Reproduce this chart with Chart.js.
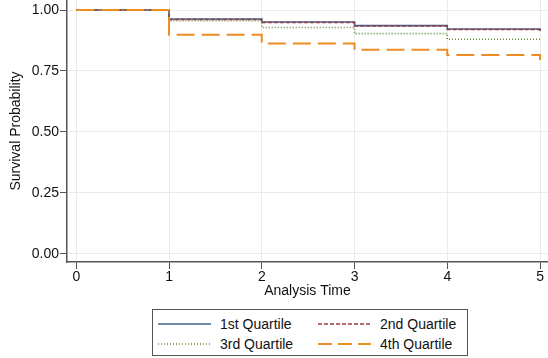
<!DOCTYPE html>
<html>
<head>
<meta charset="utf-8">
<script src="https://cdn.jsdelivr.net/npm/chart.js@4.4.1/dist/chart.umd.min.js"></script>
<style>
  body { margin: 0; background: #fff; font-family: "Liberation Sans", Arial, sans-serif; }
  #wrap { position: relative; width: 548px; height: 358px; }
  #legend {
    position: absolute; left: 152px; top: 309px; width: 314px; height: 45px;
    border: 1px solid #555; box-sizing: content-box;
    font-size: 14px; color: #111;
  }
  .item { position: absolute; display: flex; align-items: center; height: 16px; }
  .item svg { margin-right: 9px; }
</style>
</head>
<body>
<div id="wrap">
  <canvas id="km" width="548" height="300"></canvas>
  <div id="legend"></div>
</div>
<script>
// Kaplan-Meier estimates by quartile, read at each year
const times = [0, 1, 2, 3, 4, 5];
const q1 = [1, 0.963, 0.951, 0.936, 0.922, 0.914];
const q2 = [1, 0.961, 0.949, 0.934, 0.920, 0.912];
const q3 = [1, 0.956, 0.928, 0.903, 0.880, 0.877];
const q4 = [1, 0.899, 0.863, 0.837, 0.816, 0.795];
const seriesNames = ['1st Quartile', '2nd Quartile', '3rd Quartile', '4th Quartile'];
const xTicks = [0, 1, 2, 3, 4, 5];
const yTicks = [0, 0.25, 0.5, 0.75, 1];

const styles = [
    { color: '#3f6491', width: 1.6, dash: [], legendDash: '', order: 3 },
    { color: '#9a3b44', width: 1.5, dash: [4, 2], legendDash: '4 2', order: 2 },
    { color: '#5f8a3a', width: 1.6, dash: [1, 2], legendDash: '1 2', order: 1 },
    { color: '#ec8c22', width: 2, dash: [18, 7], legendDash: '14 6', order: 0 }
];

function points(values) {
    return times.map((t, i) => ({ x: t, y: values[i] }));
}

const datasets = [q1, q2, q3, q4].map((vals, i) => ({
    label: seriesNames[i],
    data: points(vals),
    stepped: true,
    borderColor: styles[i].color,
    borderWidth: styles[i].width,
    borderDash: styles[i].dash,
    pointRadius: 0,
    fill: false,
    order: styles[i].order
}));

const font = { family: '"Liberation Sans", Arial, sans-serif', size: 14 };

new Chart(document.getElementById('km').getContext('2d'), {
    type: 'line',
    data: { datasets },
    options: {
        responsive: false,
        animation: false,
        layout: { padding: 0 },
        plugins: { legend: { display: false }, tooltip: { enabled: false } },
        scales: {
            x: {
                type: 'linear',
                min: -0.1,
                max: 5.086,
                afterBuildTicks: s => { s.ticks = xTicks.map(v => ({ value: v })); },
                afterFit: s => { s.height = 38; s.paddingLeft = 0; s.paddingRight = 0; },
                ticks: { font, color: '#111', padding: 0, maxRotation: 0 },
                grid: { color: '#ebebeb', tickColor: '#555', tickLength: 7 },
                border: { color: '#555', width: 1.5 },
                title: { display: true, text: 'Analysis Time', font, color: '#111', padding: { top: 0, bottom: 0 } }
            },
            y: {
                min: -0.033,
                max: 1.041,
                afterBuildTicks: s => { s.ticks = yTicks.map(v => ({ value: v })); },
                afterFit: s => { s.width = 67; s.paddingTop = 0; s.paddingBottom = 0; },
                ticks: { font, color: '#111', padding: 1, callback: v => v.toFixed(2) },
                grid: { color: '#ebebeb', tickColor: '#555', tickLength: 7 },
                border: { color: '#555', width: 1.5 },
                title: { display: true, text: 'Survival Probability', font, color: '#111', padding: { top: 8, bottom: 0 } }
            }
        }
    }
});

// Legend: two columns, two rows inside a framed box
const legend = document.getElementById('legend');
const spots = [[5, 6], [165, 6], [5, 26], [165, 26]];
seriesNames.forEach((name, i) => {
    const st = styles[i];
    const item = document.createElement('div');
    item.className = 'item';
    item.style.left = spots[i][0] + 'px';
    item.style.top = spots[i][1] + 'px';
    item.innerHTML = `
        <svg width="53" height="6"><line x1="0" y1="3" x2="53" y2="3" stroke="${st.color}"
            stroke-width="${st.width}" stroke-dasharray="${st.legendDash}"/></svg>
        <span>${name}</span>`;
    legend.appendChild(item);
});
</script>
</body>
</html>
